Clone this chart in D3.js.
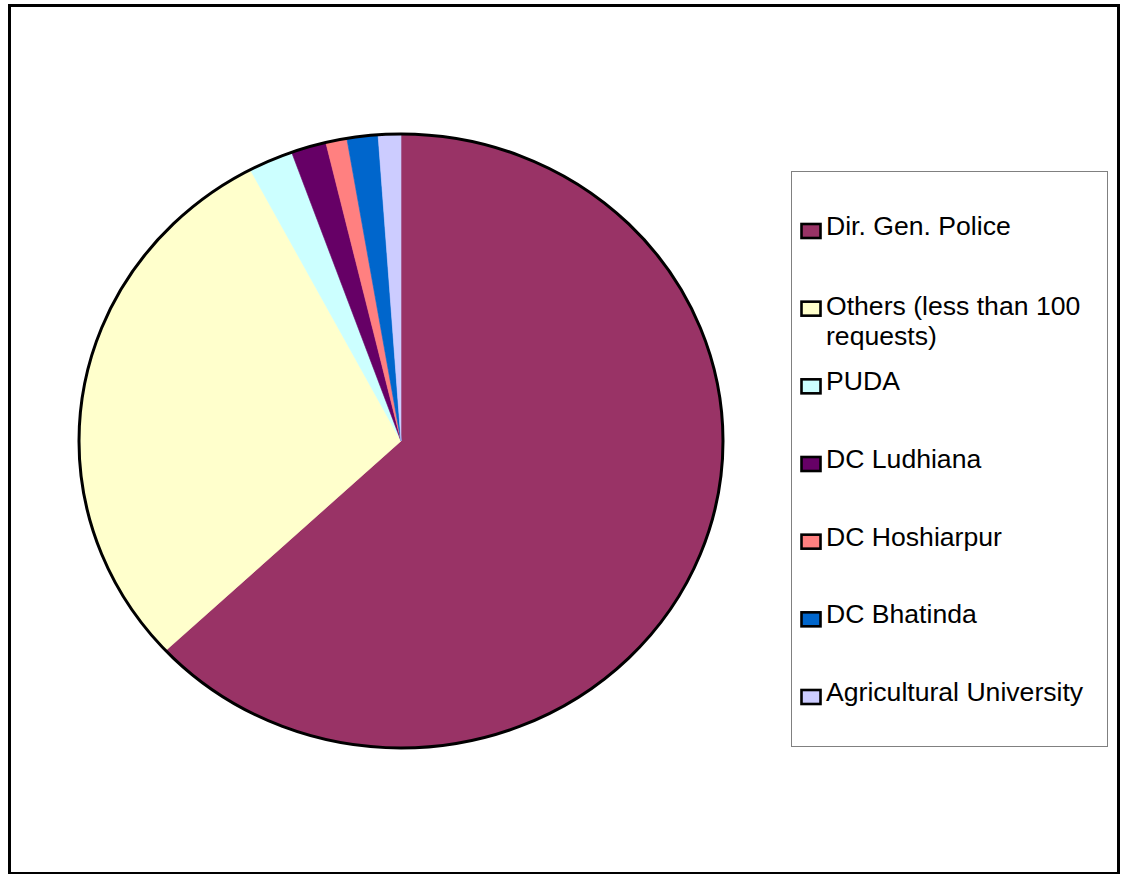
<!DOCTYPE html>
<html>
<head>
<meta charset="utf-8">
<script src="https://cdn.jsdelivr.net/npm/d3@7"></script>
<style>
  html, body { margin: 0; padding: 0; background: #fff; }
  svg { display: block; }
  .legend-label { font-family: "Liberation Sans", Arial, sans-serif; font-size: 26.6px; fill: #000; }
</style>
</head>
<body>
<div id="chart"></div>
<script>
// requests per public authority
const categories = [
  "Dir. Gen. Police",
  "Others (less than 100 requests)",
  "PUDA",
  "DC Ludhiana",
  "DC Hoshiarpur",
  "DC Bhatinda",
  "Agricultural University"
];
const values = [6000, 2780, 213, 168, 101, 148, 108];
const colors = ["#993366", "#FFFFCC", "#CCFFFF", "#660066", "#FF8080", "#0066CC", "#CCCCFF"];
// legend text split into lines as the original wraps it
const legendLines = [
  ["Dir. Gen. Police"],
  ["Others (less than 100", "requests)"],
  ["PUDA"],
  ["DC Ludhiana"],
  ["DC Hoshiarpur"],
  ["DC Bhatinda"],
  ["Agricultural University"]
];

const W = 1123, H = 874;
const CX = 401, CY = 441, RX = 322, RY = 307;

const svg = d3.select("#chart").append("svg")
  .attr("width", W)
  .attr("height", H);

// outer chart frame
svg.append("rect")
  .attr("x", 9.5).attr("y", 5.5)
  .attr("width", 1109).attr("height", 868)
  .attr("fill", "#fff")
  .attr("stroke", "#000")
  .attr("stroke-width", 3);

const data = categories.map((c, i) => ({ name: c, value: values[i], color: colors[i] }));

const pie = d3.pie().sort(null).value((d) => d.value).startAngle(0).endAngle(2 * Math.PI);
const arc = d3.arc().innerRadius(0).outerRadius(RX);

// pie is slightly squashed vertically, so draw a circle and scale it
const pieG = svg.append("g")
  .attr("transform", `translate(${CX},${CY}) scale(1,${RY / RX})`);

pieG.selectAll("path.slice")
  .data(pie(data))
  .join("path")
  .attr("class", "slice")
  .attr("d", arc)
  .attr("fill", (d) => d.data.color)
  .attr("stroke", (d) => d.data.color)
  .attr("stroke-width", 0.6)
  .attr("vector-effect", "non-scaling-stroke");

// thick outline round the pie only
pieG.append("circle")
  .attr("r", RX)
  .attr("fill", "none")
  .attr("stroke", "#000")
  .attr("stroke-width", 3)
  .attr("vector-effect", "non-scaling-stroke");

// legend
svg.append("rect")
  .attr("x", 791.5).attr("y", 171.5)
  .attr("width", 316).attr("height", 575)
  .attr("fill", "#fff")
  .attr("stroke", "#808080")
  .attr("stroke-width", 1);

const ly = d3.scalePoint().domain(categories).range([235, 701]);

const item = svg.selectAll("g.legend-item")
  .data(data)
  .join("g")
  .attr("class", "legend-item")
  .attr("transform", (d) => `translate(0,${ly(d.name)})`);

item.append("rect")
  .attr("x", 801.5).attr("y", -11)
  .attr("width", 19).attr("height", 14)
  .attr("fill", (d) => d.color)
  .attr("stroke", "#000")
  .attr("stroke-width", 2.6);

item.append("text")
  .attr("class", "legend-label")
  .attr("x", 826)
  .attr("y", (d, i) => (legendLines[i].length > 1 ? 2 : 0))
  .each(function (d, i) {
    const t = d3.select(this);
    legendLines[i].forEach((line, j) => {
      t.append("tspan").attr("x", 826).attr("dy", j === 0 ? 0 : 30).text(line);
    });
  });
</script>
</body>
</html>
